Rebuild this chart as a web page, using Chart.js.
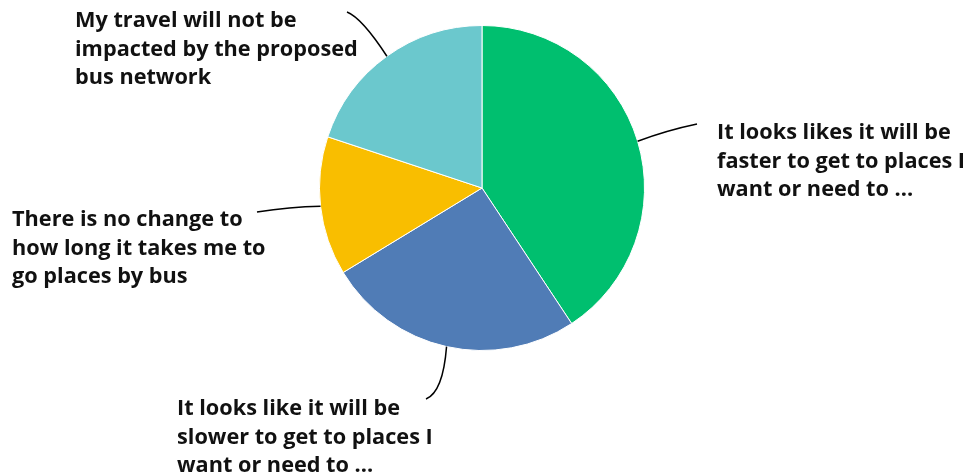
<!DOCTYPE html>
<html>
<head>
<meta charset="utf-8">
<script src="https://cdn.jsdelivr.net/npm/chart.js@4.4.1/dist/chart.umd.min.js"></script>
<style>
  html, body { margin: 0; padding: 0; background: #fff; }
  #wrap { width: 967px; height: 476px; position: relative; }
</style>
</head>
<body>
<div id="wrap"><canvas id="chart"></canvas></div>
<script>
// Survey answers, one slice each (clockwise from 12 o'clock)
const categories = [
  ["It looks likes it will be", "faster to get to places I", "want or need to ..."],
  ["It looks like it will be", "slower to get to places I", "want or need to ..."],
  ["There is no change to", "how long it takes me to", "go places by bus"],
  ["My travel will not be", "impacted by the proposed", "bus network"]
];
const shares = [40.7, 25.6, 13.8, 19.9];
const sliceColors = ["#00BF6F", "#507CB6", "#F9BE00", "#6BC8CD"];

// Where each label block sits and how its leader curves toward it
const labelLayout = [
  { textX: 717, baseY: 139, endX: 697, endY: 124, ctrlX: 668, ctrlY: 130 },
  { textX: 177, baseY: 415, endX: 426, endY: 399, ctrlX: 443, ctrlY: 392 },
  { textX: 12,  baseY: 226, endX: 257, endY: 212, ctrlX: 290, ctrlY: 207 },
  { textX: 75,  baseY: 27,  endX: 347, endY: 12,  ctrlX: 362, ctrlY: 18 }
];
const LINE_HEIGHT = 28.5;
const LABEL_FONT = "bold 21.7px 'Open Sans', sans-serif";

const calloutPlugin = {
  id: 'callouts',
  afterDatasetsDraw(chart) {
    const { ctx } = chart;
    const meta = chart.getDatasetMeta(0);
    ctx.save();
    meta.data.forEach((arc, i) => {
      const p = arc.getProps(['x', 'y', 'startAngle', 'endAngle', 'outerRadius'], true);
      const mid = (p.startAngle + p.endAngle) / 2;
      const sx = p.x + Math.cos(mid) * p.outerRadius;
      const sy = p.y + Math.sin(mid) * p.outerRadius;
      const L = labelLayout[i];
      ctx.beginPath();
      ctx.moveTo(sx, sy);
      ctx.quadraticCurveTo(L.ctrlX, L.ctrlY, L.endX, L.endY);
      ctx.strokeStyle = '#000';
      ctx.lineWidth = 1.5;
      ctx.stroke();

      ctx.fillStyle = '#111';
      ctx.font = LABEL_FONT;
      ctx.textAlign = 'left';
      ctx.textBaseline = 'alphabetic';
      chart.data.labels[i].forEach((line, k) => {
        ctx.fillText(line, L.textX, L.baseY + k * LINE_HEIGHT);
      });
    });
    ctx.restore();
  }
};

new Chart(document.getElementById('chart'), {
  type: 'pie',
  data: {
    labels: categories,
    datasets: [{
      data: shares,
      backgroundColor: sliceColors,
      borderColor: '#ffffff',
      borderWidth: 1
    }]
  },
  options: {
    responsive: true,
    maintainAspectRatio: false,
    animation: false,
    layout: { padding: { top: 25, bottom: 125, left: 0, right: 3 } },
    plugins: {
      legend: { display: false },
      tooltip: { enabled: false }
    }
  },
  plugins: [calloutPlugin]
});
</script>
</body>
</html>
